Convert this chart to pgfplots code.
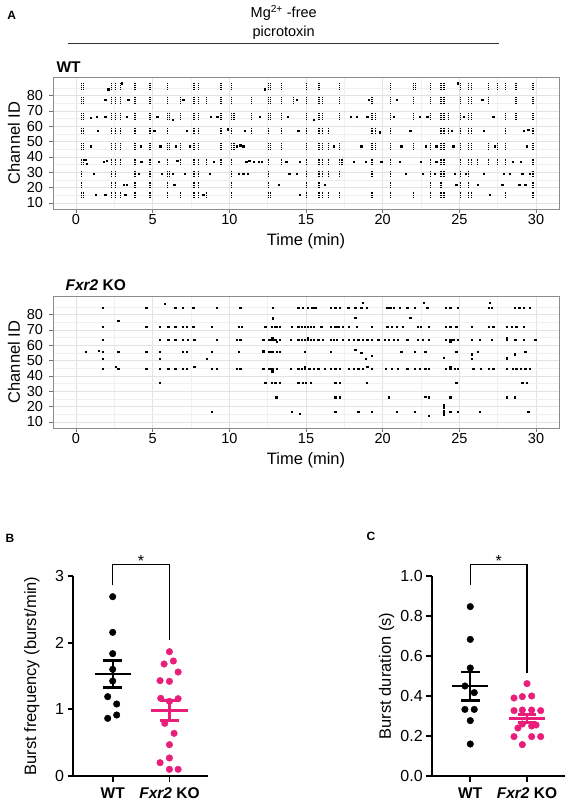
\documentclass[border=0pt]{standalone}
\usepackage{fontspec}
\setmainfont{Liberation Sans}
\usepackage{pgfplots}
\pgfplotsset{compat=1.18}
\usepackage{pgfplotstable}
\definecolor{pinkko}{RGB}{233,30,122}

\pgfplotstableread{
t b1 b2 b3 b4 b5 b6 b7 b8 b9
0.35 86 77 66.5 57 47 37 29 22 15.5
0.50 86 77 66.5 57 47 37 nan nan 15.5
2.30 86 77 66.5 57 47 37 29 22 15.5
2.60 86 77 66.5 57 47 37 29 22 15.5
2.90 86 77 66.5 57 47 37 nan nan 15.5
3.85 86 77 66.5 57 47 37 29 22 15.5
4.83 86 77 66.5 57 47 37 29 22 15.5
5.95 86 77 66.5 57 47 37 29 22 15.5
6.10 nan nan 66.5 nan 47 nan 29 nan nan
6.80 nan 77 66.5 nan 47 37 nan nan 15.5
7.70 86 77 66.5 57 47 37 29 22 15.5
8.00 86 77 66.5 57 47 37 29 22 15.5
8.50 nan 77 nan nan nan 37 nan nan 15.5
9.45 86 77 66.5 57 47 37 nan nan nan
10.15 86 77 66.5 57 47 37 29 22 15.5
10.30 nan nan 66.5 nan 47 nan nan nan nan
11.45 nan 77 66.5 57 nan nan nan nan nan
12.55 86 77 66.5 57 47 37 29 22 15.5
12.70 86 77 66.5 nan 47 nan nan nan 15.5
13.40 86 77 66.5 57 47 37 nan nan nan
14.20 nan 77 nan nan nan nan nan nan nan
15.05 86 77 66.5 57 47 37 29 22 15.5
15.85 86 77 66.5 57 47 37 29 22 15.5
16.05 nan 77 66.5 57 47 37 29 nan 15.5
16.45 nan nan nan 57 47 37 29 nan 15.5
17.20 86 77 66.5 nan 47 37 29 nan 15.5
17.35 nan nan nan nan nan 37 nan nan nan
19.30 nan 77 66.5 57 47 37 29 nan 15.5
19.55 nan nan 66.5 57 47 nan nan nan nan
20.50 86 77 66.5 57 47 37 29 22 15.5
22.00 86 77 66.5 nan 47 nan nan nan 15.5
22.15 86 nan nan nan nan nan nan nan nan
23.10 86 77 66.5 nan 47 37 29 22 15.5
23.80 86 77 66.5 57 47 37 29 22 15.5
24.00 86 77 66.5 57 47 37 29 nan 15.5
24.30 nan nan 66.5 57 nan nan nan nan nan
25.05 86 77 66.5 57 47 37 29 22 15.5
25.60 86 77 66.5 57 47 37 29 22 15.5
25.80 86 77 66.5 57 47 37 nan nan 15.5
26.20 nan nan nan nan nan 37 nan nan nan
26.90 86 77 nan nan 47 37 nan nan nan
27.50 86 nan nan nan 47 37 nan nan nan
28.00 86 nan 66.5 57 47 37 nan nan 15.5
28.70 86 77 66.5 nan nan nan nan nan nan
29.80 86 77 66.5 57 47 37 29 22 15.5
}\wtstacks

\pgfplotsset{
  raster/.style={
    scale only axis, width=506pt, height=132pt,
    xmin=-1.5, xmax=31.5, ymin=6, ymax=92,
    xtick={0,5,...,30}, ytick={10,20,...,80},
    minor xtick={2.5,7.5,...,27.5}, minor ytick={15,25,...,85},
    grid=both,
    major grid style={line width=0.5pt, black!11},
    minor grid style={line width=0.4pt, black!6},
    axis line style={black!45, line width=0.6pt},
    tick pos=left, tick align=outside,
    major tick length=3.5pt, minor tick length=0pt,
    major tick style={black!55, line width=0.5pt},
    tick label style={font=\fontsize{14.5}{15}\selectfont},
    /pgf/number format/assume math mode=true,
    xticklabel style={yshift=1.5pt},
    yticklabel style={xshift=-3pt},
    xlabel={Time (min)}, ylabel={Channel ID},
    label style={font=\fontsize{16.5}{18}\selectfont},
    xlabel style={at={(axis description cs:0.5,-0.245)}, anchor=center},
    ylabel style={at={(axis description cs:-0.077,0.5)}, anchor=center},
  },
  stack/.style={only marks, mark=|, mark size=2.9pt,
    mark options={black, line width=1.2pt, dash pattern=on 1pt off 0.8pt}},
  single/.style={only marks, mark=square*, mark size=0.65pt, black},
  dotplot/.style={
    scale only axis, height=200pt, ymin=0,
    axis lines=left, axis line style={-, line width=1.9pt},
    tick align=outside, major tick length=5.5pt,
    tick style={line width=1.7pt, black},
    xtick={1,2}, xticklabels={WT, \textit{Fxr2} KO},
    xticklabel style={font=\fontsize{15.5}{16}\selectfont\bfseries, yshift=-3pt},
    yticklabel style={font=\fontsize{16}{17}\selectfont},
    ylabel style={font=\fontsize{16.5}{18}\selectfont, anchor=center},
    /pgf/number format/assume math mode=true,
    clip=false,
  },
  wtdot/.style={only marks, mark=*, mark size=3.3pt, black},
  kodot/.style={only marks, mark=*, mark size=3.3pt, pinkko, mark options={draw=pinkko, fill=pinkko}},
  mline/.style={line width=2.4pt},
}

\begin{document}
\begin{tikzpicture}
\useasboundingbox (0,0) rectangle (570pt,-802pt);

% header
\node[font=\bfseries\fontsize{12}{13}\selectfont] at (11.7pt,-15pt) {A};
\node[font=\fontsize{14.5}{16}\selectfont] at (283.7pt,-12.7pt) {Mg\textsuperscript{2+} -free};
\node[font=\fontsize{14.5}{16}\selectfont] at (283.7pt,-32.7pt) {picrotoxin};
\draw[black!80, line width=0.8pt] (68.3pt,-43.3pt) -- (499pt,-43.3pt);
\node[anchor=west, font=\bfseries\fontsize{15.5}{16}\selectfont] at (53pt,-66.7pt) {WT};
\node[anchor=west, font=\bfseries\fontsize{15.5}{16}\selectfont] at (62pt,-285.3pt) {\textit{Fxr2} KO};

% WT raster
\begin{axis}[raster, at={(53pt,-77pt)}, anchor=north west]
\pgfplotsinvokeforeach{1,...,9}{\addplot[stack] table[x=t, y=b#1] {\wtstacks};}
\addplot[single] coordinates {
(0.95,47) (0.96,65.5) (1.35,66) (1.4,57) (1.3,15.5) (1.15,29) (1.9,77) (1.9,66) (1.8,37) (2.0,37.5)
(1.9,15.5) (3.3,66) (3.4,77) (4.2,47) (4.25,37) (4.1,29) (3.3,22) (5.3,66) (5.5,47) (5.4,37)
(5.6,29) (6.5,47) (6.6,37.5) (6.4,22) (7.0,77) (7.2,57) (7.1,29) (8.8,66) (9.0,37) (8.7,29)
(10.5,47) (10.7,47.5) (10.9,47) (11.1,37) (11.3,37.5) (11.6,37) (11.9,37) (10.6,29) (10.9,29) (11.2,29)
(11.0,57) (12.1,37) (13.8,66) (13.9,29) (13.7,37) (14.4,77) (14.5,57) (14.6,37) (14.4,29) (14.6,15.5)
(16.8,47) (17.9,66) (18.1,37) (18.6,47) (18.9,37) (19.0,66) (19.1,77) (20.7,66) (20.9,77) (21.1,37)
(21.2,47) (21.5,29) (22.5,37) (22.6,29) (22.8,47) (22.9,66) (23.4,29) (23.5,37) (23.5,47) (24.5,57)
(24.6,47) (24.7,29) (24.8,22) (25.3,66) (25.4,29) (26.5,77) (26.6,29) (27.2,66) (27.3,47) (27.8,22)
(28.3,29) (28.5,37) (29.1,29) (29.2,57) (29.4,47) (29.3,22) (29.5,57.5) (29.6,29) (26.2,22) (27.0,15.5)
(28.9,22) (0.6,38) (0.7,35.5) (2.1,84) (3.0,88) (6.3,64) (9.9,58) (12.3,84) (15.5,64) (19.8,56) (24.9,88)
(3.1,22) (3.2,15.5) (5.1,57) (6.3,29) (7.4,47) (8.3,15.5) (9.2,66) (12.0,66) (13.2,22) (16.2,22)
(18.3,66) (19.9,37) (21.8,57) (22.4,66) (26.6,57) (27.9,29) (29.0,37)
};
\end{axis}

% KO raster
\begin{axis}[raster, at={(53pt,-296pt)}, anchor=north west]
\addplot[single] coordinates {
(1.72,84.5) (4.57,84.5) (6.46,84.5) (6.96,84.5) (7.65,84.5) (9.18,84.5) (10.7,84.5) (12.83,84.5) (14.5,84.5) (14.8,84.5)
(15.1,84.5) (15.4,84.5) (15.6,84.5) (16.6,84.5) (16.9,84.5) (17.2,84.5) (17.76,84.5) (18.2,84.5) (18.6,84.5) (18.96,84.5)
(20.3,84.5) (20.5,84.5) (20.7,84.5) (21.1,84.5) (21.6,84.5) (22.1,84.5) (22.9,84.5) (24.1,84.5) (24.4,84.5) (24.9,84.5)
(26.9,84.5) (27.1,84.5) (28.6,84.5) (28.9,84.5) (29.2,84.5) (29.6,84.5)
(5.8,87) (18.7,87.5) (22.66,87.5) (27.0,87.5)
(2.76,76) (12.83,77.5) (18.2,78) (21.8,78)
};
\addplot[single] coordinates {
(1.72,72) (4.57,72) (5.48,72) (6.02,72) (6.46,72) (6.96,72) (7.2,72) (7.65,72) (8.85,72) (10.6,72)
(10.8,72) (12.33,72) (12.76,72) (12.95,72) (13.1,72) (13.3,72) (14.07,72) (14.5,72) (14.7,72) (14.9,72)
(15.1,72) (15.3,72) (15.5,72) (16.0,72) (16.6,72) (16.9,72) (17.1,72) (17.4,72) (17.8,72) (18.3,72)
(19.3,72) (20.3,72) (20.6,72) (20.9,72) (21.3,72) (22.3,72) (22.5,72) (23.0,72) (24.1,72) (24.4,72)
(24.8,72) (25.8,72) (26.9,72) (27.2,72) (28.1,72) (28.4,72) (28.7,72) (29.2,72)
};
\addplot[single] coordinates {
(1.72,63.5) (5.48,63.5) (6.02,63.5) (6.46,63.5) (6.98,63.5) (7.3,63.5) (7.7,63.5) (9.18,63.5) (10.5,63.5) (10.7,63.5)
(12.2,63.5) (12.6,63.5) (12.8,63.5) (13.0,63.5) (13.3,63.5) (14.0,63.5) (14.5,63.5) (14.7,63.5) (14.9,63.5) (15.1,63.5)
(15.3,63.5) (15.5,63.5) (15.8,63.5) (16.1,63.5) (16.6,63.5) (16.8,63.5) (17.0,63.5) (17.4,63.5) (17.8,63.5) (18.1,63.5)
(18.4,63.5) (18.7,63.5) (19.0,63.5) (19.3,63.5) (19.7,63.5) (20.15,63.5) (20.4,63.5) (20.7,63.5) (21.0,63.5) (21.6,63.5)
(22.3,63.5) (22.6,63.5) (23.0,63.5) (24.1,63.5) (24.4,63.5) (24.6,63.5) (24.9,63.5) (25.8,63.5) (26.35,63.5) (27.1,63.5)
(28.1,63.5) (28.64,63.5) (29.2,63.5) (29.94,63.5)
(12.8,65) (13.1,62) (15.1,65) (24.4,62) (28.1,65)
};
\addplot[single] coordinates {
(0.65,55.5) (1.46,56.5) (1.72,55.5) (2.76,55.5) (4.57,55.5) (5.48,55.5) (6.96,55.5) (7.2,55.5) (8.85,55.5) (10.6,55.5)
(12.2,56) (12.6,55.5) (12.8,55.5) (13.1,55.5) (13.3,55.5) (14.9,55.5) (16.6,55.5) (18.2,57) (18.6,55) (19.3,53)
(21.2,55.5) (22.1,55.5) (22.77,55.5) (24.0,52) (24.8,55.5) (25.8,54) (25.8,51) (26.2,55.5) (28.1,51.5) (28.6,54) (29.3,55.5)
(1.72,51) (5.48,51) (8.52,51) (18.9,51)
};
\addplot[single] coordinates {
(1.72,44.5) (2.6,46) (2.76,44.5) (4.57,44.5) (5.48,44.5) (6.02,44.5) (6.46,44.5) (6.96,44.5) (7.2,44.5) (7.7,46)
(8.85,44.5) (9.18,44.5) (10.5,44.5) (10.7,44.5) (12.2,44.5) (12.6,44.5) (12.8,44.5) (13.1,44.5) (14.0,44.5) (14.5,44.5)
(14.7,44.5) (14.9,44.5) (15.2,44.5) (15.5,44.5) (15.8,44.5) (16.2,44.5) (16.6,44.5) (16.9,44.5) (17.2,44.5) (17.8,44.5)
(18.1,44.5) (18.4,44.5) (18.7,44.5) (19.0,46) (19.3,44.5) (20.2,44.5) (20.6,44.5) (21.0,44.5) (21.6,44.5) (22.1,44.5)
(22.4,44.5) (22.77,44.5) (23.0,44.5) (24.1,44.5) (24.4,44.5) (24.7,44.5) (24.9,44.5) (25.9,44.5) (26.4,44.5) (26.9,44.5)
(27.2,44.5) (28.1,44.5) (28.5,44.5) (28.7,44.5) (29.0,44.5) (29.3,44.5) (29.6,44.5)
(12.8,43) (14.9,46) (24.4,46)
};
\addplot[single] coordinates {
(5.48,35.5) (12.33,35.5) (12.76,35.5) (13.0,35.5) (13.3,35.5) (14.5,35.5) (14.8,35.5) (15.0,35.5) (15.3,35.5) (16.9,35.5)
(17.2,35.5) (18.96,35.5) (24.8,35.5) (29.1,35.5) (29.4,35.5)
(13.05,26) (16.9,26) (17.2,26) (20.4,26) (22.77,26.5) (23.0,26) (24.4,26) (28.1,26) (28.6,26)
(24.0,21) (24.0,19.5)
(8.85,16.5) (14.07,16.5) (14.6,15.5) (16.9,16.5) (18.4,16.5) (19.3,16.5) (20.9,16.5) (22.1,16.5) (23.0,14) (24.0,17)
(24.0,15) (24.4,16.5) (24.9,16.5) (26.35,16.5) (29.5,16.5)
};
\end{axis}

% B
\node[font=\bfseries\fontsize{12}{13}\selectfont] at (10pt,-538pt) {B};
\begin{axis}[dotplot, at={(73pt,-776pt)}, anchor=south west, width=135pt,
  xmin=0.3, xmax=2.68, ymax=3, ytick={0,1,2,3},
  ylabel={Burst frequency (burst/min)},
  ylabel style={at={(axis description cs:-0.304,0.5)}}]
\addplot[wtdot] coordinates {(1,2.69) (1,2.155) (1,1.835) (1,1.60) (1,1.425) (0.912,1.19) (1.07,1.08) (0.912,0.865) (1.07,0.915)};
\addplot[kodot] coordinates {(2,1.865) (1.906,1.68) (2.07,1.725) (2.153,1.56) (1.835,1.43) (2,1.42) (1.847,1.165) (2,1.12) (2.153,1.16)
 (1.918,0.79) (2.082,0.64) (2,0.47) (2,0.27) (1.835,0.2) (2,0.1) (2.153,0.1)};
\addplot[black, mline] coordinates {(0.68,1.528) (1.32,1.528)};
\addplot[black, mline] coordinates {(1,1.33) (1,1.73)};
\addplot[black, mline] coordinates {(0.835,1.73) (1.165,1.73)};
\addplot[black, mline] coordinates {(0.835,1.33) (1.165,1.33)};
\addplot[pinkko, mline] coordinates {(1.68,0.98) (2.32,0.98)};
\addplot[pinkko, mline] coordinates {(2,0.83) (2,1.13)};
\addplot[pinkko, mline] coordinates {(1.835,1.13) (2.165,1.13)};
\addplot[pinkko, mline] coordinates {(1.835,0.83) (2.165,0.83)};
\addplot[black, line width=1.1pt] coordinates {(1,2.86) (1,3.17) (2,3.17) (2,2.04)};
\node[font=\fontsize{16}{17}\selectfont] at (axis cs:1.5,3.22) {*};
\end{axis}

% C
\node[font=\bfseries\fontsize{12}{13}\selectfont] at (371pt,-536.7pt) {C};
\begin{axis}[dotplot, at={(431.7pt,-776pt)}, anchor=south west, width=133.3pt,
  xmin=0.32, xmax=2.67, ymax=1, ytick={0,0.2,0.4,0.6,0.8,1.0},
  yticklabel={\pgfmathprintnumber[fixed,fixed zerofill,precision=1]{\tick}},
  ylabel={Burst duration (s)},
  ylabel style={at={(axis description cs:-0.3376,0.5)}}]
\addplot[wtdot] coordinates {(1,0.847) (1,0.683) (1,0.54) (0.906,0.45) (1.07,0.417) (0.906,0.333) (1.07,0.333) (1,0.277) (1,0.16)};
\addplot[kodot] coordinates {(2,0.462) (1.771,0.39) (1.918,0.397) (2.082,0.40) (1.771,0.327) (1.918,0.33) (2.082,0.33) (2.241,0.327)
 (1.918,0.26) (2.082,0.25) (1.84,0.24) (2.16,0.255) (1.771,0.197) (2.082,0.197) (2.241,0.197) (1.918,0.157)};
\addplot[black, mline] coordinates {(0.68,0.45) (1.32,0.45)};
\addplot[black, mline] coordinates {(1,0.377) (1,0.52)};
\addplot[black, mline] coordinates {(0.835,0.52) (1.165,0.52)};
\addplot[black, mline] coordinates {(0.835,0.377) (1.165,0.377)};
\addplot[pinkko, mline] coordinates {(1.68,0.288) (2.32,0.288)};
\addplot[pinkko, mline] coordinates {(2,0.268) (2,0.308)};
\addplot[pinkko, mline] coordinates {(1.835,0.308) (2.165,0.308)};
\addplot[pinkko, mline] coordinates {(1.835,0.268) (2.165,0.268)};
\addplot[black, line width=1.1pt] coordinates {(1,0.955) (1,1.058) (2,1.058) (2,0.517)};
\node[font=\fontsize{16}{17}\selectfont] at (axis cs:1.5,1.075) {*};
\end{axis}
\end{tikzpicture}
\end{document}
